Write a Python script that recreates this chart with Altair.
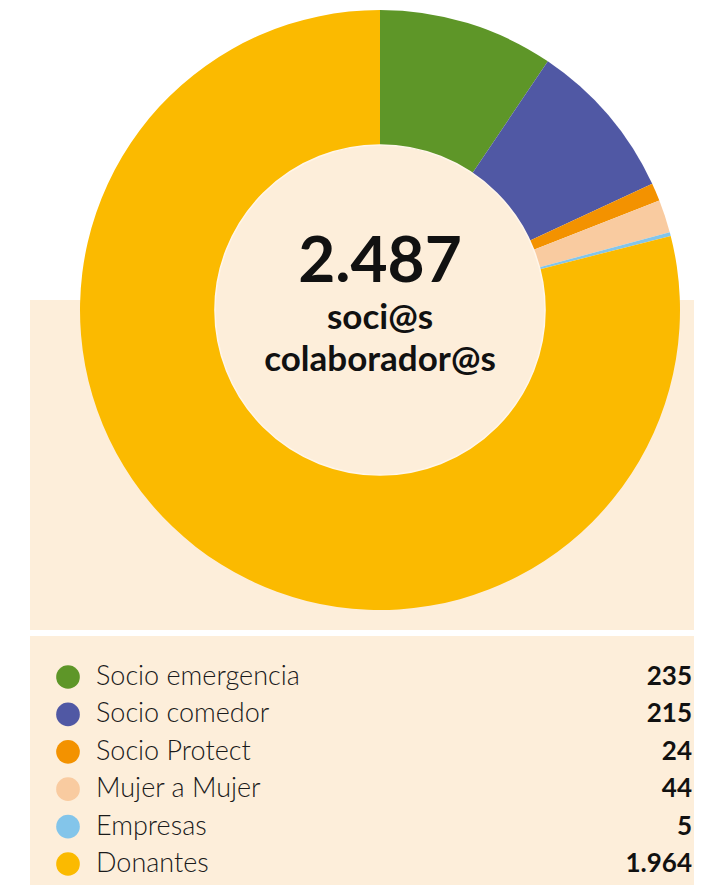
import altair as alt
import pandas as pd
import math

categories = ["Socio emergencia", "Socio comedor", "Socio Protect", "Mujer a Mujer", "Empresas", "Donantes"]
values = [235, 215, 24, 44, 5, 1964]
colors = ["#5E9628", "#5058A4", "#F39200", "#F9CBA0", "#83C5EA", "#FBBA00"]

BEIGE = "#FDEEDA"

def es_fmt(n):
    return f"{n:,}".replace(",", ".")

total = sum(values)
df = pd.DataFrame({
    "cat": categories,
    "val": values,
    "label": [es_fmt(v) for v in values],
    "ord": list(range(len(categories))),
})
one = pd.DataFrame({"k": [0]})

CX, CY = 372, 302

color = alt.Color("cat:N", scale=alt.Scale(domain=categories, range=colors), legend=None)
ypos = alt.Y("cat:N", sort=categories, scale=alt.Scale(type="point", range=[669, 856], padding=0), axis=None)

bg1 = alt.Chart(one).mark_rect(color=BEIGE).encode(
    x=alt.value(22), x2=alt.value(686), y=alt.value(292), y2=alt.value(622))
bg2 = alt.Chart(one).mark_rect(color=BEIGE).encode(
    x=alt.value(22), x2=alt.value(686), y=alt.value(628), y2=alt.value(885))

donut = alt.Chart(df).mark_arc(outerRadius=300, innerRadius=0, stroke=None).encode(
    theta=alt.Theta("val:Q", stack=True),
    order=alt.Order("ord:Q"),
    color=color,
    x=alt.value(CX), y=alt.value(CY),
)
center = alt.Chart(one).mark_arc(outerRadius=165, innerRadius=0, theta=0, theta2=2 * math.pi,
                                 color=BEIGE, stroke="#FFF6EA", strokeWidth=1.5).encode(
    x=alt.value(CX), y=alt.value(CY))

t1 = alt.Chart(one).mark_text(text=es_fmt(total), font="Lato", fontWeight="bold", fontSize=64,
                              color="#111111", baseline="alphabetic").encode(
    x=alt.value(CX), y=alt.value(274))
t2 = alt.Chart(one).mark_text(text="soci@s", font="Lato", fontWeight="bold", fontSize=35,
                              color="#111111", baseline="alphabetic").encode(
    x=alt.value(CX), y=alt.value(321))
t3 = alt.Chart(one).mark_text(text="colaborador@s", font="Lato", fontWeight="bold", fontSize=35,
                              color="#111111", baseline="alphabetic").encode(
    x=alt.value(CX), y=alt.value(363))

leg_dot = alt.Chart(df).mark_circle(size=560, opacity=1).encode(
    x=alt.value(60), y=ypos, color=color)
leg_txt = alt.Chart(df).mark_text(align="left", baseline="middle", font="Lato", fontWeight=300,
                                  fontSize=27, color="#1a1a1a").encode(
    x=alt.value(88), y=ypos, text="cat:N")
leg_val = alt.Chart(df).mark_text(align="right", baseline="middle", font="Lato", fontWeight="bold",
                                  fontSize=26, color="#111111").encode(
    x=alt.value(684), y=ypos, text="label:N")

chart = alt.layer(bg1, bg2, donut, center, t1, t2, t3, leg_dot, leg_txt, leg_val).properties(
    width=686, height=877,
    autosize=alt.AutoSizeParams(type="none"),
    padding=0,
    background="white",
).configure_view(stroke=None)

chart.save("out.html", embed_options={"renderer": "svg", "actions": False})
